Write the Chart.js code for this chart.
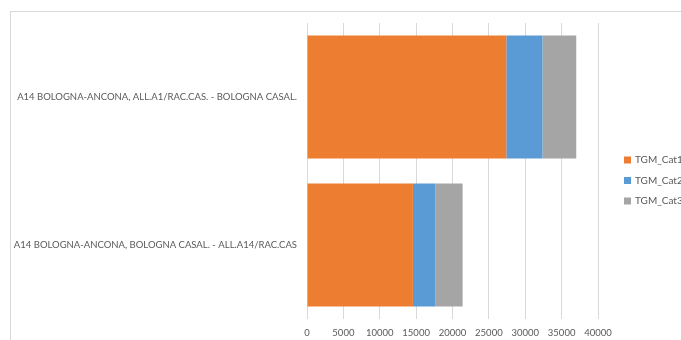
<!DOCTYPE html>
<html>
<head>
<meta charset="utf-8">
<script src="https://cdn.jsdelivr.net/npm/chart.js@4/dist/chart.umd.min.js"></script>
<style>
  html, body { margin: 0; padding: 0; background: #fff; }
  #wrap { position: relative; width: 681px; height: 340px; }
</style>
</head>
<body>
<div id="wrap"><canvas id="trafficChart" width="681" height="340"></canvas></div>
<script>
// Road sections and traffic values by vehicle class
const sections = [
  "A14 BOLOGNA-ANCONA, ALL.A1/RAC.CAS. - BOLOGNA CASAL.",
  "A14 BOLOGNA-ANCONA, BOLOGNA CASAL. - ALL.A14/RAC.CAS"
];
const seriesNames = ["TGM_Cat1", "TGM_Cat2", "TGM_Cat3"];
const cat1 = [27400, 14560];
const cat2 = [4970, 3070];
const cat3 = [4640, 3760];
const seriesColors = ["#ED7D31", "#5B9BD5", "#A5A5A5"];

const axisMax = 40000;
const axisStep = 5000;

const textColor = "#595959";
const fontFamily = "Lato, 'Open Sans', sans-serif";

// outer chart frame
const framePlugin = {
  id: "frame",
  beforeDraw(chart) {
    const ctx = chart.ctx;
    ctx.save();
    ctx.strokeStyle = "#d9d9d9";
    ctx.lineWidth = 1;
    ctx.strokeRect(10.5, 11.5, 720, 400);
    ctx.restore();
  }
};

// legend on the right, drawn from the datasets
const sideLegend = {
  id: "sideLegend",
  afterDraw(chart) {
    const ctx = chart.ctx;
    ctx.save();
    ctx.font = "10px " + fontFamily;
    ctx.textBaseline = "middle";
    chart.data.datasets.forEach((ds, i) => {
      const y = 160 + i * 20.5;
      ctx.fillStyle = ds.backgroundColor;
      ctx.fillRect(624, y - 3.5, 7, 7);
      ctx.fillStyle = textColor;
      ctx.fillText(ds.label, 635, y);
    });
    ctx.restore();
  }
};

const seriesData = [cat1, cat2, cat3];

new Chart(document.getElementById("trafficChart"), {
  type: "bar",
  data: {
    labels: sections,
    datasets: seriesNames.map((name, i) => ({
      label: name,
      data: seriesData[i],
      backgroundColor: seriesColors[i],
      borderWidth: 0,
      categoryPercentage: 0.83,
      barPercentage: 1
    }))
  },
  options: {
    indexAxis: "y",
    responsive: false,
    animation: false,
    layout: { padding: { top: 23, right: 83, bottom: 0, left: 0 } },
    plugins: {
      legend: { display: false },
      tooltip: { enabled: false }
    },
    scales: {
      x: {
        stacked: true,
        min: 0,
        max: axisMax,
        border: { display: false },
        grid: { color: "#d9d9d9", drawTicks: false },
        ticks: {
          stepSize: axisStep,
          color: textColor,
          padding: 8,
          font: { family: fontFamily, size: 9.5 },
          callback: (v) => String(v)
        },
        afterFit(scale) { scale.height = 21; }
      },
      y: {
        stacked: true,
        border: { display: false },
        grid: { display: false, drawTicks: false },
        ticks: {
          color: textColor,
          padding: 10,
          font: { family: fontFamily, size: 9.5 }
        },
        afterFit(scale) { scale.width = 307; }
      }
    }
  },
  plugins: [framePlugin, sideLegend]
});
</script>
</body>
</html>
